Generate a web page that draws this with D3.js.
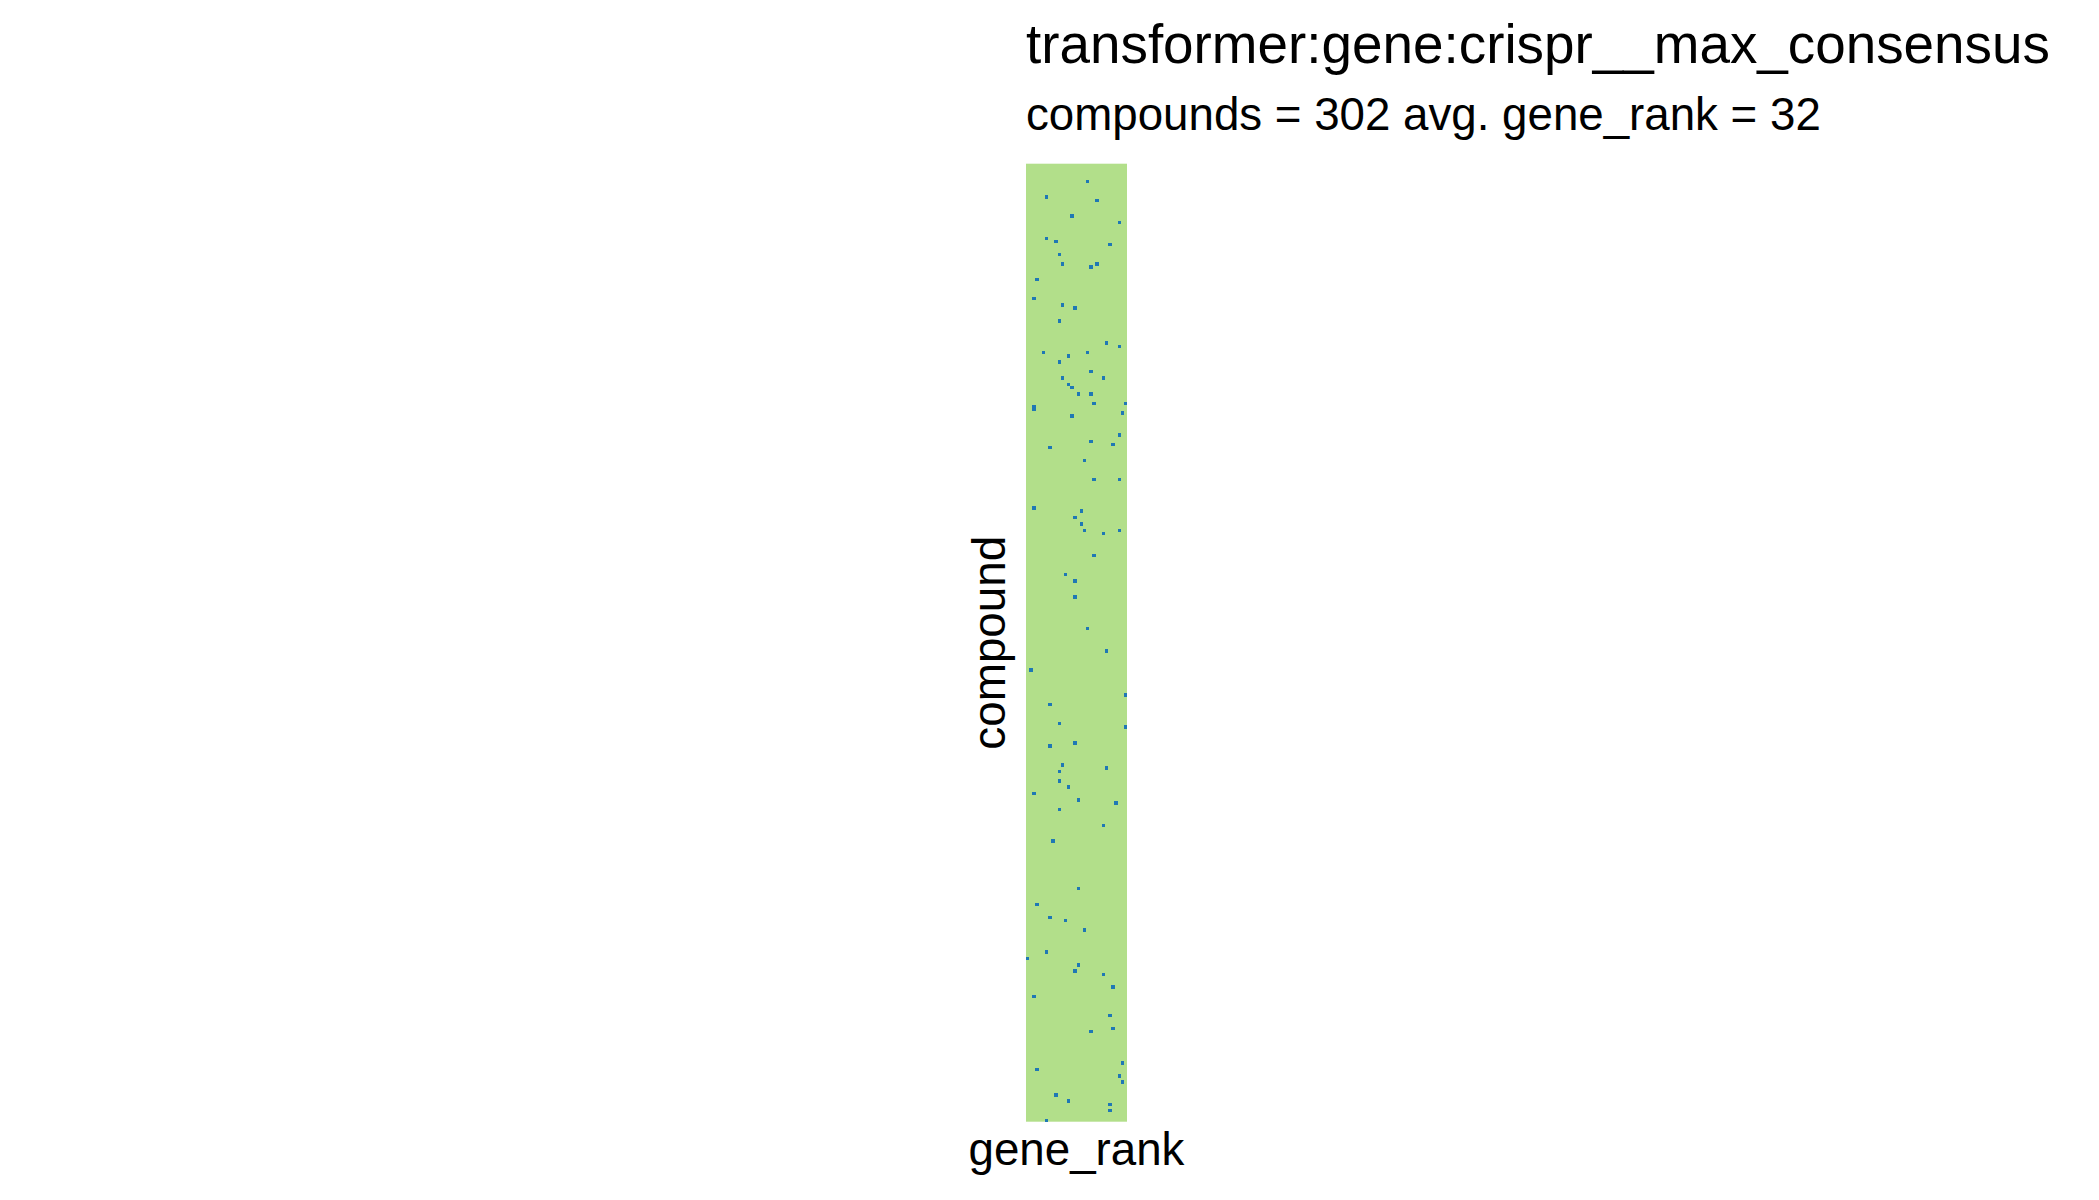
<!DOCTYPE html>
<html>
<head>
<meta charset="utf-8">
<script src="https://cdn.jsdelivr.net/npm/d3@7"></script>
<style>
  html, body { margin: 0; padding: 0; background: #ffffff; }
  svg { display: block; }
  text { font-family: "Liberation Sans", Arial, Helvetica, sans-serif; fill: #000; }
</style>
</head>
<body>
<script>
// ---- data ----
const titleText = "transformer:gene:crispr__max_consensus";
const subtitleText = "compounds = 302 avg. gene_rank = 32";
const xLabel = "gene_rank";
const yLabel = "compound";
const nCompounds = 302;
const nRankCols = 32;
// blue cells: compound row index and rank column index
const hitCompound = [5,10,11,16,18,23,24,25,28,31,32,31,36,42,44,45,49,56,57,59,60,59,62,65,67,67,69,70,72,72,
  75,75,76,77,78,79,85,87,88,89,93,99,99,108,109,111,113,115,116,115,123,129,131,136,146,
  153,159,167,170,176,177,183,182,189,190,191,194,196,198,200,201,203,208,213,
  228,233,237,238,241,248,250,252,254,255,259,262,268,272,273,283,285,287,289,293,295,296,298,301];
const hitRank = [19,6,22,14,29,6,9,26,10,11,20,22,3,2,11,15,10,25,29,5,13,19,10,20,11,24,13,14,16,20,
  21,31,2,2,30,14,29,20,27,7,18,21,29,2,17,15,17,18,24,29,21,12,15,15,19,
  25,1,31,7,10,31,7,15,11,25,10,10,13,2,16,28,10,24,8,
  16,3,7,12,18,6,0,16,15,24,27,2,26,27,20,30,3,29,30,9,13,26,26,6];
const bgColor = "#B2DF8A";
const hitColor = "#1F78B4";

// ---- layout ----
const W = 2099, H = 1200;
const plot = { left: 1026, right: 1127, top: 163.7, bottom: 1121.7 };

const svg = d3.select("body").append("svg").attr("width", W).attr("height", H);

const x = d3.scaleBand().domain(d3.range(nRankCols)).range([plot.left, plot.right]).padding(0);
const y = d3.scaleBand().domain(d3.range(nCompounds)).range([plot.top, plot.bottom]).padding(0);

svg.append("rect")
  .attr("x", plot.left).attr("y", plot.top)
  .attr("width", plot.right - plot.left).attr("height", plot.bottom - plot.top)
  .attr("fill", bgColor);

const hits = hitCompound.map((c, i) => ({ c, r: hitRank[i] }));
svg.append("g").selectAll("rect").data(hits).join("rect")
  .attr("x", d => x(d.r))
  .attr("y", d => y(d.c))
  .attr("width", x.bandwidth() + 0.3)
  .attr("height", y.bandwidth() + 0.3)
  .attr("fill", hitColor)
  .attr("shape-rendering", "crispEdges");

function fitText(sel, targetWidth, startSize) {
  sel.style("font-size", startSize + "px");
  const w = sel.node().getComputedTextLength();
  sel.style("font-size", (startSize * targetWidth / w).toFixed(2) + "px");
  return sel;
}

fitText(svg.append("text").attr("x", plot.left).attr("y", 63).text(titleText), 1024, 48);
fitText(svg.append("text").attr("x", plot.left).attr("y", 129.5).text(subtitleText), 795, 40);
fitText(svg.append("text").attr("x", (plot.left + plot.right) / 2).attr("y", 1165)
  .attr("text-anchor", "middle").text(xLabel), 216, 40);
fitText(svg.append("text")
  .attr("transform", `translate(1005,${(plot.top + plot.bottom) / 2}) rotate(-90)`)
  .attr("text-anchor", "middle").text(yLabel), 214, 40);
</script>
</body>
</html>
